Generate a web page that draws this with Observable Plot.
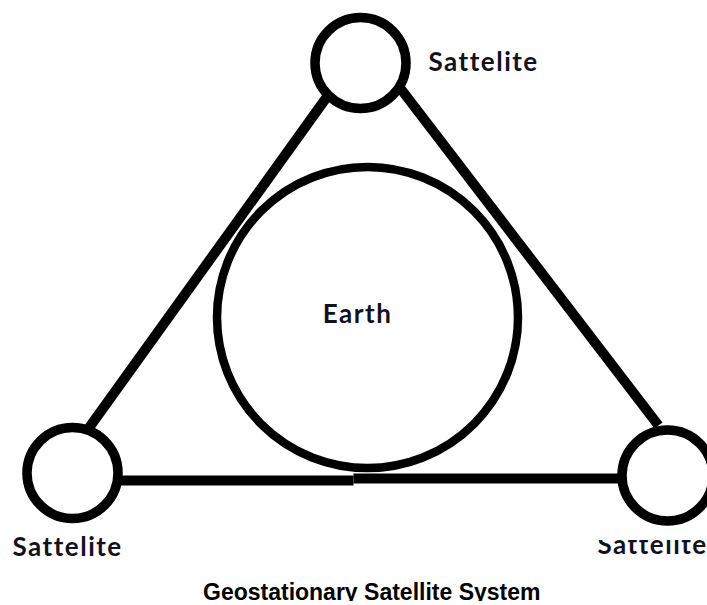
<!DOCTYPE html>
<html>
<head>
<meta charset="utf-8">
<script src="https://cdn.jsdelivr.net/npm/d3@7"></script>
<script src="https://cdn.jsdelivr.net/npm/@observablehq/plot@0.6"></script>
<style>
  html, body { margin: 0; padding: 0; background: #fff; }
  #chart svg { display: block; }
  #caption {
    font-family: "Liberation Sans", Arial, sans-serif;
    font-weight: bold;
    font-size: 23px;
    line-height: 18px;
    color: #000;
    padding-left: 203px;
    white-space: nowrap;
  }
</style>
</head>
<body>
<div id="chart"></div>
<div id="caption"></div>
<script>
// ---- Diagram data (diagram units; 1 unit = 1 px of the original drawing) ----
const satelliteNames = ["Top", "Bottom left", "Bottom right"];
const satelliteX = [360, 72, 667];
const satelliteY = [62.5, 472.5, 475];

const earthX = [367];
const earthY = [317];

// triangle links (segments between the satellites)
const linkX1 = [326, 400, 115, 353];
const linkY1 = [97, 88, 480, 478];
const linkX2 = [88, 658, 353, 620];
const linkY2 = [428, 425, 480, 478];

const labelTexts = ["Sattelite", "Sattelite", "Earth"];
const labelX = [428, 12, 357];
const labelY = [70, 555, 322];
const labelAnchor = ["start", "start", "middle"];

// the third satellite label is partly cut off in the original
const cutLabelText = ["Sattelite"];
const cutLabelX = [597];
const cutLabelY = [553];

const captionText = "Geostationary Satellite System";

// ---- build tables ----
const satellites = satelliteNames.map((n, i) => ({name: n, x: satelliteX[i], y: satelliteY[i]}));
const earth = earthX.map((x, i) => ({name: "Earth", x, y: earthY[i]}));
const links = linkX1.map((x1, i) => ({x1, y1: linkY1[i], x2: linkX2[i], y2: linkY2[i]}));
const labels = labelTexts.map((t, i) => ({text: t, x: labelX[i], y: labelY[i], anchor: labelAnchor[i]}));
const cutLabels = cutLabelText.map((t, i) => ({text: t, x: cutLabelX[i], y: cutLabelY[i]}));

const W = 707, H = 583;
const fontSize = 26;
const textFont = "Lato, 'Open Sans', sans-serif";
const textColor = "#11111f";

const plot = Plot.plot({
  width: W,
  height: H,
  margin: 0,
  style: {background: "#fff", overflow: "hidden"},
  x: {domain: [0, W], range: [0, W], axis: null},
  y: {domain: [0, H], range: [0, H], axis: null},
  marks: [
    Plot.link(links, {x1: "x1", y1: "y1", x2: "x2", y2: "y2", stroke: "#000", strokeWidth: 10, strokeLinecap: "butt"}),
    Plot.dot(earth, {x: "x", y: "y", r: 150.5, stroke: "#000", strokeWidth: 8.5, fill: "none"}),
    Plot.dot(satellites, {x: "x", y: "y", r: 45.5, stroke: "#000", strokeWidth: 9.5, fill: "#fff"}),
    Plot.text(labels.filter(d => d.anchor === "start"), {
      x: "x", y: "y", text: "text", textAnchor: "start", lineAnchor: "bottom",
      fontFamily: textFont, fontWeight: "bold", fontSize, fill: textColor
    }),
    Plot.text(labels.filter(d => d.anchor === "middle"), {
      x: "x", y: "y", text: "text", textAnchor: "middle", lineAnchor: "bottom",
      fontFamily: textFont, fontWeight: "bold", fontSize, fill: textColor
    }),
    Plot.text(cutLabels, {
      x: "x", y: "y", text: "text", textAnchor: "start", lineAnchor: "bottom",
      fontFamily: textFont, fontWeight: "bold", fontSize, fill: textColor
    })
  ]
});

document.getElementById("chart").appendChild(plot);
document.getElementById("caption").textContent = captionText;

const svg = d3.select(plot);
// letter spacing to mimic the wide bitmap rendering of the original
svg.selectAll("text").attr("letter-spacing", "1.5px");

// clip the upper part of the cut label (last text mark)
const textNodes = svg.selectAll("text").nodes();
const cutNode = textNodes[textNodes.length - 1];
const ys = plot.scale("y");
const clipTop = ys.apply(cutLabelY[0]) - fontSize * 0.5;
svg.append("defs").append("clipPath").attr("id", "cutclip")
  .attr("clipPathUnits", "userSpaceOnUse")
  .append("rect")
  .attr("x", 0).attr("y", clipTop).attr("width", W).attr("height", H - clipTop);
const wrapper = svg.append("g").attr("clip-path", "url(#cutclip)");
wrapper.node().appendChild(cutNode.parentNode === plot ? cutNode : cutNode.parentNode);
</script>
</body>
</html>
